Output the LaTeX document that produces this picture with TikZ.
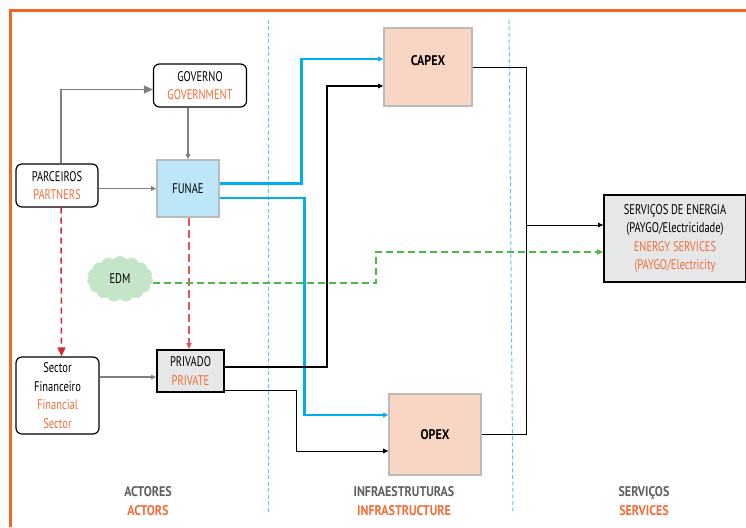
\documentclass[tikz,border=0pt]{standalone}
\usepackage{fontspec}
\setmainfont{PT Sans}[UprightFeatures={FakeStretch=0.75}, BoldFeatures={FakeStretch=0.86}]
\usetikzlibrary{arrows.meta, positioning, shapes.symbols}

\definecolor{txtorange}{RGB}{242,109,55}
\definecolor{frameorange}{RGB}{242,101,34}
\definecolor{flowblue}{RGB}{0,174,239}
\definecolor{divblue}{RGB}{95,197,240}
\definecolor{dashred}{RGB}{215,38,47}
\definecolor{dashpink}{RGB}{224,85,94}
\definecolor{dashgreen}{RGB}{77,184,72}
\definecolor{arrowgrey}{RGB}{128,128,128}
\definecolor{funaefill}{RGB}{189,230,248}
\definecolor{costfill}{RGB}{249,213,196}
\definecolor{servfill}{RGB}{230,231,232}
\definecolor{edmfill}{RGB}{197,229,200}
\definecolor{colgrey}{RGB}{95,95,95}

\begin{document}
\begin{tikzpicture}[
		x=1pt, y=-1pt,
		font=\fontsize{14}{18.5}\selectfont,
		every node/.style={align=center, inner sep=0pt},
		actor/.style={draw, rounded corners=6pt, line width=1.2pt, fill=white},
		funaebox/.style={draw=black!27, line width=1.6pt, fill=funaefill},
		costbox/.style={draw=black!27, line width=1.6pt, fill=costfill, font=\fontsize{14}{18}\selectfont\bfseries},
		darkbox/.style={draw, line width=1.8pt, fill=servfill},
		greyarrow/.style={-{Triangle[length=5pt, width=4.5pt]}, draw=arrowgrey, line width=1.5pt},
		blackarrow/.style={-{Triangle[length=5pt, width=4.5pt]}, line width=1pt},
		bluearrow/.style={-{Triangle[length=5pt, width=4.5pt]}, draw=flowblue, line width=2.8pt},
		divider/.style={divblue, dashed, dash pattern=on 4pt off 2.5pt, line width=1pt},
		coltitle/.style={font=\fontsize{14}{19}\selectfont\bfseries}
		]
		
		\useasboundingbox (0,0) rectangle (746,527);
		
		% Frame
		\draw[frameorange, line width=3pt] (10,527) -- (10,11) -- (746,11);
		
		% Column dividers
		\draw[divider] (268,20) -- (268,512);
		\draw[divider] (509,20) -- (513,512);
		
		% Actors
		\node (governo) [actor, minimum width=93, minimum height=43] at (200,85.5) {GOVERNO\\\textcolor{txtorange}{GOVERNMENT}};
		\node (parceiros) [actor, minimum width=82, minimum height=43] at (57,185.5) {PARCEIROS\\\textcolor{txtorange}{PARTNERS}};
		\node (funae) [funaebox, minimum width=62, minimum height=57] at (188,188.5) {FUNAE};
		\node (edm) [cloud, cloud puffs=15, cloud puff arc=110, aspect=1.5, fill=edmfill, minimum width=66, minimum height=46] at (120,279) {EDM};
		\node (sector) [actor, minimum width=83, minimum height=77] at (57.5,395.5) {Sector\\Financeiro\\\textcolor{txtorange}{Financial}\\\textcolor{txtorange}{Sector}};
		\node (privado) [darkbox, minimum width=67, minimum height=42] at (190.5,371) {PRIVADO\\\textcolor{txtorange}{PRIVATE}};
		
		% Infrastructure
		\node (capex) [costbox, minimum width=88, minimum height=78, text depth=12pt] at (428,67) {CAPEX};
		\node (opex) [costbox, minimum width=92, minimum height=81] at (435,434.5) {OPEX};
		
		% Services
		\node (serv) [darkbox, minimum width=142, minimum height=87] at (675,238.5) {SERVIÇOS DE ENERGIA\\(PAYGO/Electricidade)\\\textcolor{txtorange}{ENERGY SERVICES}\\\textcolor{txtorange}{(PAYGO/Electricity}};
		
		% Column titles
		\node (actores) [coltitle] at (148,501) {\textcolor{colgrey}{ACTORES}\\\textcolor{txtorange}{ACTORS}};
		\node (infra) [coltitle] at (404,501) {\textcolor{colgrey}{INFRAESTRUTURAS}\\\textcolor{txtorange}{INFRASTRUCTURE}};
		\node (servicos) [coltitle] at (644,501) {\textcolor{colgrey}{SERVIÇOS}\\\textcolor{txtorange}{SERVICES}};
		
		% Helper points
		\coordinate (pin) at ([yshift=-6pt]privado.west);
		\path ([yshift=13.5pt]serv.west) ++(-77,0) coordinate (join);
		
		% Arrows
		\draw[greyarrow, -{Triangle[length=9pt, width=8pt]}] ([xshift=4pt]parceiros.north) |- ([yshift=-4pt]governo.west);
		\draw[greyarrow] (funae.north |- governo.south) -- (funae.north);
		\draw[greyarrow] (parceiros.east |- funae.west) -- (funae.west);
		\draw[greyarrow] (sector.east |- pin) -- (pin);
		
		\draw[dashred, dashed, line width=1.5pt, dash pattern=on 6pt off 4pt, -{Triangle[length=9pt, width=8pt]}] ([xshift=4pt]parceiros.south) -- ([xshift=4pt]sector.north);
		\draw[dashpink, dashed, line width=1.5pt, dash pattern=on 8pt off 4pt, -{Triangle[length=6pt, width=5pt]}] ([xshift=1pt]funae.south) -- ([xshift=1pt]funae.south |- privado.north);
		
		\draw[bluearrow] ([yshift=5pt]funae.east) -- ++(82,0) |- ([yshift=8pt]capex.west);
		\draw[bluearrow] ([yshift=-9.5pt]funae.east) -- ++(85,0) |- ([yshift=19.5pt]opex.west);
		
		\draw[blackarrow, line width=1.5pt] ([yshift=4pt]privado.east) -- ++(102,0) |- ([yshift=-19pt]capex.west);
		\draw[blackarrow] ([yshift=-19pt]privado.east) -- ++(72,0) |- ([yshift=-16.5pt]opex.west);
		
		\draw[line width=1pt] (capex.east) -| (join);
		\draw[line width=1pt] (opex.east) -| (join);
		\draw[blackarrow] (join) -- (join -| serv.west);
		
		\draw[dashgreen, dashed, line width=1.5pt, dash pattern=on 7pt off 4pt, -{Triangle[length=6pt, width=5pt]}] ([yshift=-4pt]edm.east) -- ++(223,0) |- ([yshift=-13.5pt]serv.west);
		
	\end{tikzpicture}
\end{document}
